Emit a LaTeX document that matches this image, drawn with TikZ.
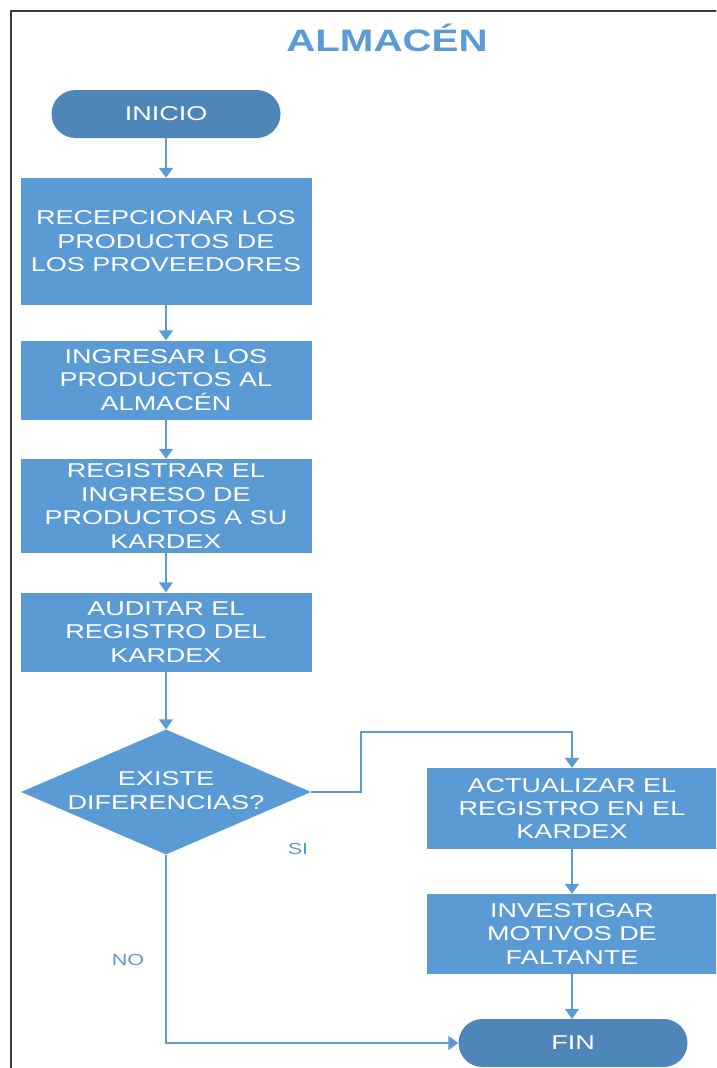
\documentclass[tikz,border=0pt]{standalone}
\usepackage{fontspec}
\setmainfont{Liberation Sans}
\newfontfamily\widesans[FakeStretch=1.35]{Liberation Sans}
\newfontfamily\titlesans[FakeStretch=1.3]{Liberation Sans}
\definecolor{procblue}{RGB}{91,155,213}
\definecolor{termblue}{RGB}{79,134,186}
\definecolor{framegray}{RGB}{60,60,60}
\usetikzlibrary{shapes.geometric, arrows.meta, positioning, calc}

\begin{document}
\begin{tikzpicture}[x=1pt, y=-1pt,
  proc/.style={rectangle, fill=procblue, text=white, minimum width=291pt,
               align=center, inner sep=2pt, font=\widesans\fontsize{20}{23.4}\selectfont},
  term/.style={rectangle, rounded corners=24pt, fill=termblue, text=white,
               minimum width=229pt, minimum height=48pt, font=\widesans\fontsize{20}{24}\selectfont},
  decision/.style={diamond, fill=procblue, minimum width=290pt, minimum height=125pt, inner sep=0pt},
  dectext/.style={text=white, align=center, inner sep=0pt, font=\widesans\fontsize{20}{23.4}\selectfont},
  arr/.style={-{Triangle[width=14pt, length=10pt]}, line width=1.8pt, procblue},
  lbl/.style={text=procblue, font=\widesans\fontsize{16}{18}\selectfont}
]
  \useasboundingbox (0,0) rectangle (716,1068);
  \clip (0,0) rectangle (716,1068);

  % Frame and title
  \draw[framegray, line width=1.6pt] (11,1080) -- (11,11) -- (730,11);
  \node[text=procblue, font=\titlesans\bfseries\fontsize{31}{34}\selectfont] (title) at (387,38) {ALMACÉN};

  % Main column
  \node[term] (ini) at (166,114) {INICIO};
  \node[proc, minimum height=127pt] (recep) at (166,241.5)
    {RECEPCIONAR LOS\\PRODUCTOS DE\\LOS PROVEEDORES};
  \node[proc, minimum height=79pt] (ingr) at (166,380)
    {INGRESAR LOS\\PRODUCTOS AL\\ALMACÉN};
  \node[proc, minimum height=94pt] (regis) at (166,506)
    {REGISTRAR EL\\INGRESO DE\\PRODUCTOS A SU\\KARDEX};
  \node[proc, minimum height=79pt] (audit) at (166,632)
    {AUDITAR EL\\REGISTRO DEL\\KARDEX};
  \node[decision] (dec) at (166,792) {};
  \node[dectext] (dectxt) at (166,790.5) {EXISTE\\DIFERENCIAS?};

  % Right branch
  \node[proc, minimum height=81pt] (actual) at (572,808.5)
    {ACTUALIZAR EL\\REGISTRO EN EL\\KARDEX};
  \node[proc, minimum height=80pt] (invest) at (572,934)
    {INVESTIGAR\\MOTIVOS DE\\FALTANTE};
  \node[term] (fin) at (573,1043) {FIN};

  % Connectors
  \coordinate (bend) at (361,732);
  \draw[arr] (ini) -- (recep);
  \draw[arr] (recep) -- (ingr);
  \draw[arr] (ingr) -- (regis);
  \draw[arr] (regis) -- (audit);
  \draw[arr] (audit) -- (dec);
  \draw[arr] (dec.east) -| (bend) -| (actual.north);
  \draw[arr] (actual) -- (invest);
  \draw[arr] (invest.south) -- (invest.south |- fin.north);
  \draw[arr] (dec.south) |- (fin.west);

  % Labels
  \node[lbl] (si) at (298,849) {SI};
  \node[lbl] (no) at (128,960) {NO};
\end{tikzpicture}
\end{document}
